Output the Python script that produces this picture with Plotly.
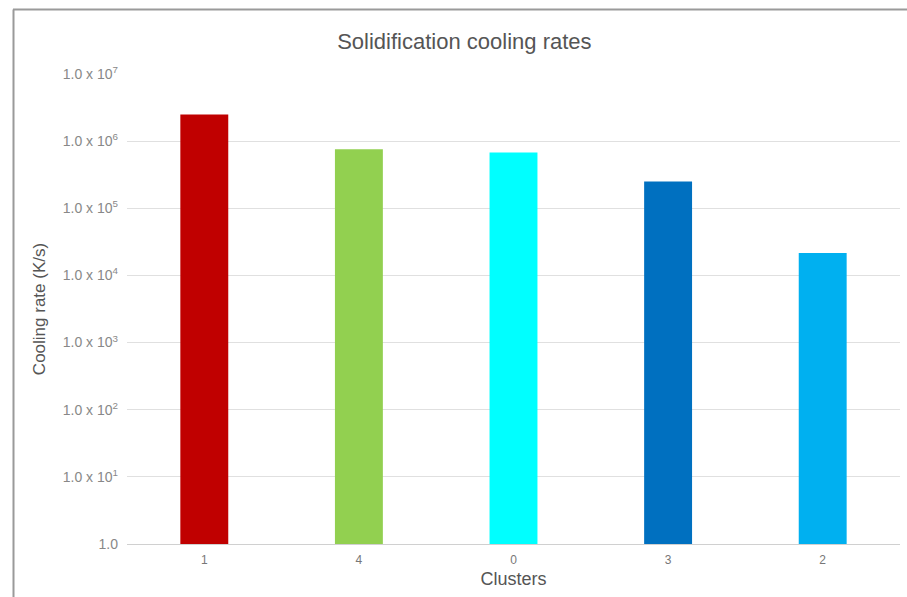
import plotly.graph_objects as go

# Cooling rate per cluster (K/s)
clusters = ["1", "4", "0", "3", "2"]
cooling_rates = [2.5e6, 7.6e5, 6.8e5, 2.5e5, 2.15e4]
bar_colors = ["#C00000", "#92D050", "#00FFFF", "#0070C0", "#00B0F0"]

tick_values = [1, 1e1, 1e2, 1e3, 1e4, 1e5, 1e6, 1e7]
tick_labels = ["1.0"] + [f"1.0 x 10<sup>{k}</sup>" for k in range(1, 8)]

font_family = "Liberation Sans, Arial, sans-serif"

fig = go.Figure(
    go.Bar(
        x=clusters,
        y=cooling_rates,
        marker=dict(color=bar_colors, line=dict(width=0)),
        width=0.31,
    )
)

fig.update_layout(
    width=907,
    height=597,
    margin=dict(l=127, r=7, t=74, b=53),
    paper_bgcolor="white",
    plot_bgcolor="white",
    showlegend=False,
    font=dict(family=font_family, color="#555555"),
    title=dict(
        text="Solidification cooling rates",
        x=0.512,
        xanchor="center",
        y=1 - 41 / 597,
        yanchor="middle",
        font=dict(size=22, color="#555555", family=font_family),
    ),
    shapes=[
        # outer frame around the chart
        dict(type="line", xref="paper", yref="paper",
             x0=(13 - 127) / 773, x1=(915 - 127) / 773,
             y0=(544 - 9.5) / 470, y1=(544 - 9.5) / 470,
             line=dict(color="#9a9a9a", width=2)),
        dict(type="line", xref="paper", yref="paper",
             x0=(13.5 - 127) / 773, x1=(13.5 - 127) / 773,
             y0=(544 - 9.5) / 470, y1=(544 - 605) / 470,
             line=dict(color="#9a9a9a", width=2)),
    ],
)

fig.update_xaxes(
    type="category",
    showgrid=False,
    showline=True,
    linecolor="#d0d0d0",
    linewidth=1,
    ticks="",
    ticklabelstandoff=5,
    tickfont=dict(size=12, color="#777777"),
    title=dict(text="Clusters", font=dict(size=18, color="#555555"), standoff=5),
)

fig.update_yaxes(
    type="log",
    range=[0, 7],
    tickvals=tick_values,
    ticktext=tick_labels,
    tickfont=dict(size=14, color="#888888"),
    showgrid=True,
    gridcolor="#e0e0e0",
    gridwidth=1,
    zeroline=False,
    showline=False,
    ticks="",
    ticklabelstandoff=8,
    title=dict(text="Cooling rate (K/s)", font=dict(size=17, color="#555555"), standoff=12),
)

fig.write_html("out.html")
